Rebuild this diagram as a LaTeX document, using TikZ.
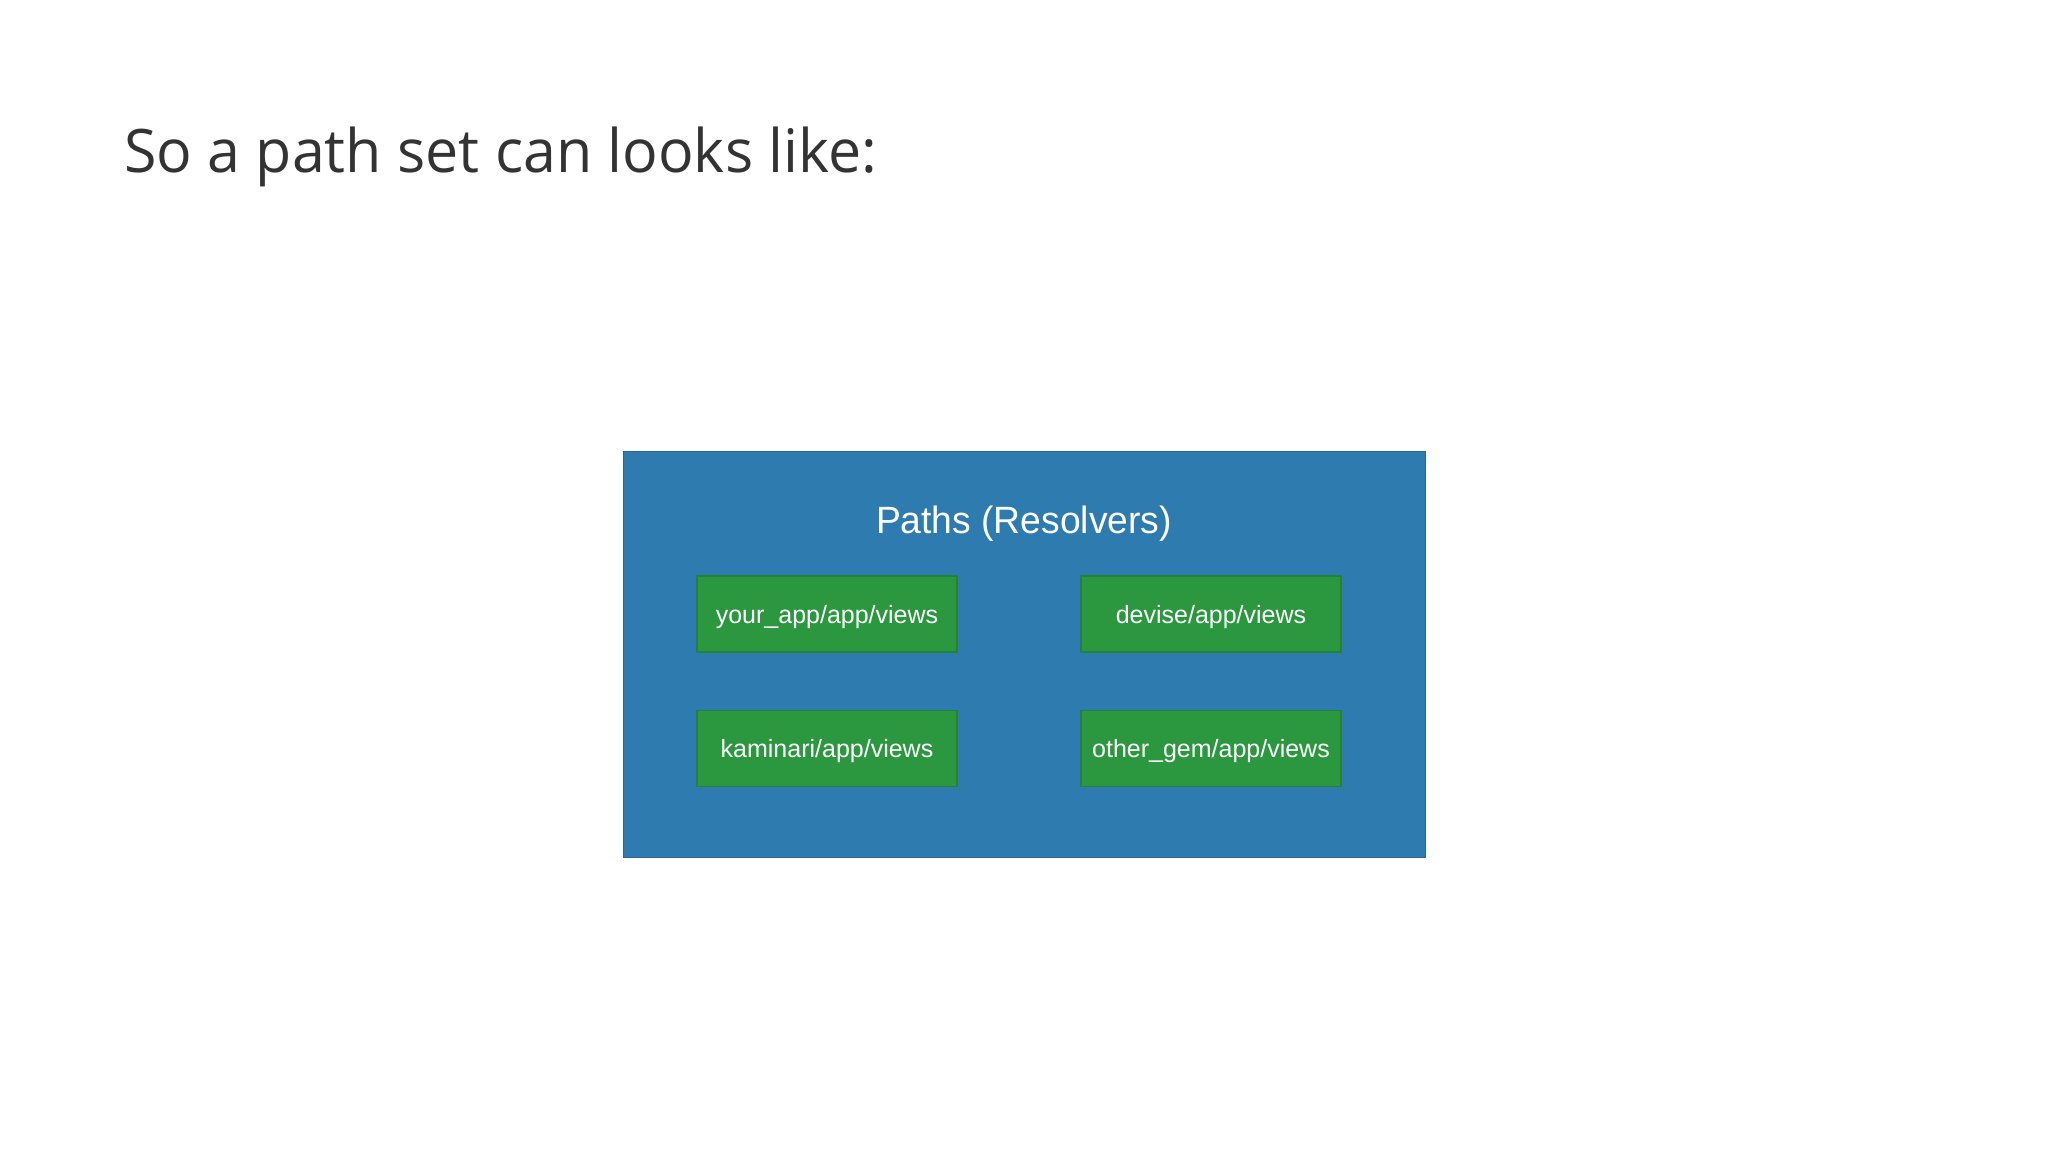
\documentclass[tikz,border=0pt]{standalone}
\usepackage{fontspec}
\setmainfont{Liberation Sans}
\newfontfamily\titlefont{Open Sans}
\definecolor{titlegray}{HTML}{333333}
\definecolor{panelblue}{HTML}{2E7BB0}
\definecolor{boxgreen}{HTML}{2B983F}
\definecolor{boxedge}{HTML}{23813A}
\begin{document}
\begin{tikzpicture}[x=1pt,y=-1pt,
  pathbox/.style={fill=boxgreen,draw=boxedge,line width=1.5pt,minimum width=260pt,minimum height=76pt,inner sep=0pt,text height=18pt,text depth=0pt,text=white,font=\fontsize{25}{30}\selectfont},
]
\useasboundingbox (0,0) rectangle (2048,1152);
\fill[white] (0,0) rectangle (2048,1152);
\node[anchor=base west,inner sep=0pt,text=titlegray,font=\titlefont\fontsize{60}{72}\selectfont,xscale=0.985] (title) at (124,172) {So a path set can looks like:};
\node[fill=panelblue,draw=panelblue!85!black,line width=0.8pt,minimum width=802pt,minimum height=406pt,inner sep=0pt] (panel) at (1024,654) {};
\node[text=white,font=\fontsize{38}{44}\selectfont,inner sep=0pt,xscale=0.98] (ptitle) at (1024,524) {Paths (Resolvers)};
\node[pathbox] (yourapp) at (827,614) {your\_app/app/views};
\node[pathbox] (devise) at (1211,614) {devise/app/views};
\node[pathbox] (kaminari) at (827,748.5) {kaminari/app/views};
\node[pathbox] (othergem) at (1211,748.5) {other\_gem/app/views};
\end{tikzpicture}
\end{document}
